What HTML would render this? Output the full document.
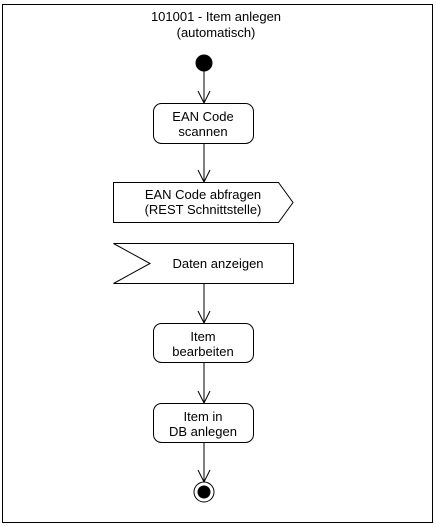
<!DOCTYPE html>
<html><head><meta charset="utf-8"><style>
html,body{margin:0;padding:0;background:#fff;}
svg{display:block;}
text{font-family:"Liberation Sans",sans-serif;font-size:13px;fill:#000;}
</style></head><body>
<svg width="436" height="527" viewBox="0 0 436 527" xmlns="http://www.w3.org/2000/svg">
<rect x="2.5" y="4.5" width="430" height="518" fill="#fff" stroke="#000"/>
<text x="216" y="21" text-anchor="middle">101001 - Item anlegen</text>
<text x="216" y="37" text-anchor="middle">(automatisch)</text>
<g stroke="#000" fill="none">
<circle cx="204" cy="63" r="8" fill="#000"/>
<line x1="204" y1="70" x2="204" y2="103"/>
<polyline points="198,91 204,103 210,91"/>
<rect x="153.5" y="103.5" width="100" height="40" rx="8" fill="#fff"/>
<line x1="204" y1="143" x2="204" y2="182"/>
<polyline points="198,170 204,182 210,170"/>
<polygon points="113.5,182.5 278.5,182.5 293,202.5 278.5,222.5 113.5,222.5" fill="#fff"/>
<polygon points="113.5,243.5 293.5,243.5 293.5,283.5 113.5,283.5 150,263.5" fill="#fff"/>
<line x1="204" y1="283" x2="204" y2="323"/>
<polyline points="198,311 204,323 210,311"/>
<rect x="153.5" y="323.5" width="100" height="39" rx="8" fill="#fff"/>
<line x1="204" y1="362" x2="204" y2="403"/>
<polyline points="198,391 204,403 210,391"/>
<rect x="153.5" y="403.5" width="100" height="39" rx="8" fill="#fff"/>
<line x1="204" y1="442" x2="204" y2="482"/>
<polyline points="198,470 204,482 210,470"/>
<circle cx="204" cy="492" r="10" fill="#fff"/>
<circle cx="204" cy="492" r="6" fill="#000"/>
</g>
<text x="203" y="121" text-anchor="middle">EAN Code</text>
<text x="203" y="136" text-anchor="middle">scannen</text>
<text x="203" y="199" text-anchor="middle">EAN Code abfragen</text>
<text x="203" y="214" text-anchor="middle">(REST Schnittstelle)</text>
<text x="218" y="268" text-anchor="middle">Daten anzeigen</text>
<text x="203" y="341" text-anchor="middle">Item</text>
<text x="203" y="356" text-anchor="middle">bearbeiten</text>
<text x="203" y="421" text-anchor="middle">Item in</text>
<text x="203" y="436" text-anchor="middle">DB anlegen</text>
</svg>
</body></html>
